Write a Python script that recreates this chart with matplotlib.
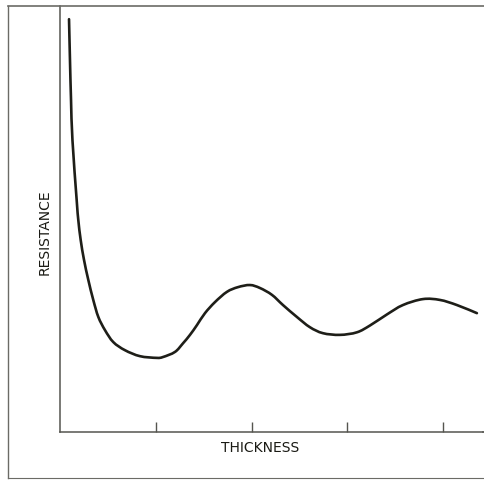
import matplotlib.pyplot as plt
from matplotlib.lines import Line2D
from matplotlib.path import Path
from matplotlib.patches import PathPatch

# values (arbitrary units)
thickness = [0.084, 0.094, 0.105, 0.120, 0.164, 0.181, 0.206,
             0.241, 0.286, 0.338, 0.391, 0.461, 0.548, 0.670, 0.827, 1.002,
             1.068, 1.194, 1.277, 1.351, 1.424, 1.508, 1.613, 1.738, 1.853,
             1.979, 2.084, 2.209, 2.325, 2.471, 2.607, 2.743, 2.921, 3.099,
             3.236, 3.414, 3.581, 3.791, 3.969, 4.147, 4.356]
resistance = [9.69, 8.73, 7.79, 6.85, 5.45, 4.98, 4.51,
              4.04, 3.57, 3.10, 2.70, 2.39, 2.11, 1.92, 1.78, 1.74,
              1.76, 1.88, 2.08, 2.28, 2.51, 2.79, 3.05, 3.29, 3.40,
              3.45, 3.38, 3.22, 2.98, 2.70, 2.46, 2.32, 2.28, 2.34,
              2.50, 2.76, 2.98, 3.12, 3.10, 2.98, 2.79]
tick_pos = [1, 2, 3, 4]


def smooth_path(xs, ys):
    # Catmull-Rom through the read points, drawn as cubic bezier segments
    verts = [(xs[0], ys[0])]
    codes = [Path.MOVETO]
    n = len(xs)
    for i in range(n - 1):
        x0, y0 = (xs[i - 1], ys[i - 1]) if i > 0 else (xs[i], ys[i])
        x1, y1 = xs[i], ys[i]
        x2, y2 = xs[i + 1], ys[i + 1]
        x3, y3 = (xs[i + 2], ys[i + 2]) if i + 2 < n else (x2, y2)
        verts += [(x1 + (x2 - x0) / 6, y1 + (y2 - y0) / 6),
                  (x2 - (x3 - x1) / 6, y2 - (y3 - y1) / 6),
                  (x2, y2)]
        codes += [Path.CURVE4] * 3
    return Path(verts, codes)


fig = plt.figure(figsize=(4.85, 4.8), dpi=100)
fig.patch.set_facecolor('white')

# outer frame of the scan
frame_col = '#6b6b66'
fig.add_artist(Line2D([8/485, 8/485], [2/480, 1 - 6/480], color=frame_col, lw=1.0))
fig.add_artist(Line2D([8/485, 1], [1 - 6/480, 1 - 6/480], color=frame_col, lw=1.2))
fig.add_artist(Line2D([8/485, 1], [2/480, 2/480], color=frame_col, lw=0.8))

ax = fig.add_axes([60/485, 48/480, 423/485, 1 - 48/480 - 6/480])
ax.patch.set_visible(False)
ax.add_patch(PathPatch(smooth_path(thickness, resistance), facecolor='none',
                       edgecolor='#1e1e18', lw=1.9, capstyle='round',
                       joinstyle='round'))

ax.set_xlim(-0.0105, 4.42)
ax.set_ylim(0, 10)
for s in ['top', 'right']:
    ax.spines[s].set_visible(False)
for s in ['left', 'bottom']:
    ax.spines[s].set_color('#55554f')
    ax.spines[s].set_linewidth(1.1)
# bottom axis runs on to the right edge of the scan
fig.add_artist(Line2D([483/485, 1], [48/480, 48/480], color='#55554f', lw=1.1))

ax.set_xticks(tick_pos)
ax.set_xticklabels([])
ax.tick_params(axis='x', direction='in', length=7, width=1, color='#55554f')
ax.set_yticks([])

fig.text(260/485, 1 - 448/480, 'THICKNESS', ha='center', va='center',
         fontsize=10, color='#1a1a14')
fig.text(45/485, 1 - 232/480, 'RESISTANCE', ha='center', va='center',
         rotation=90, fontsize=10, color='#1a1a14')

fig.savefig('out.png', dpi=100)
